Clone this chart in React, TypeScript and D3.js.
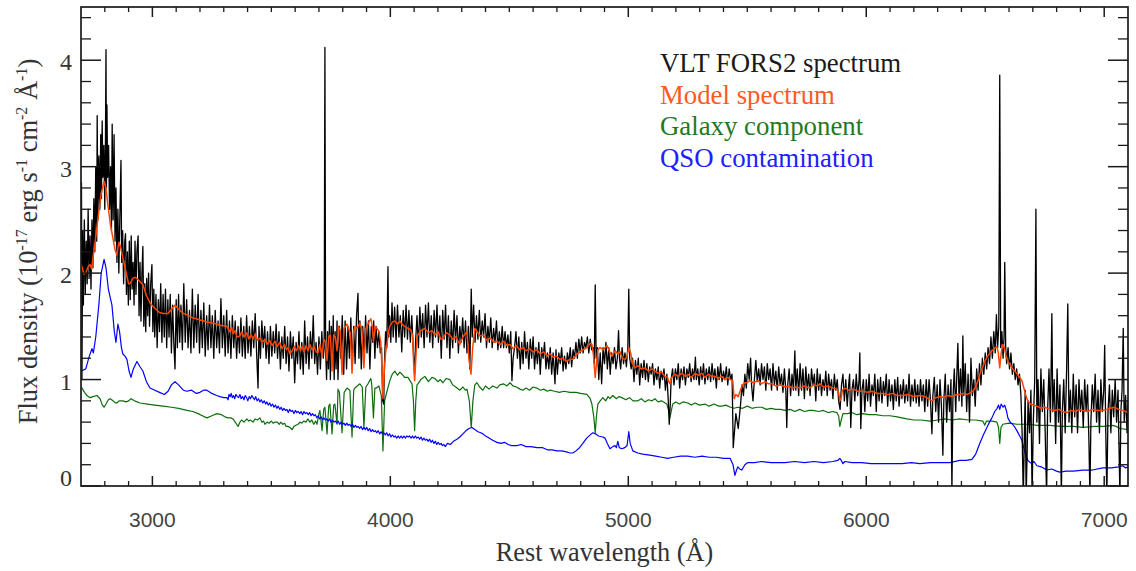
import React from "react";
import * as d3 from "d3";

const W = 1136;
const H = 571;
const M = { left: 81, right: 1128, top: 7, bottom: 486 };

const xDomain: [number, number] = [2700, 7100];
const yDomain: [number, number] = [0, 4.5];
const xTicks = [3000, 4000, 5000, 6000, 7000];
const yTicks = [0, 1, 2, 3, 4];

const legendLabels = ["VLT FORS2 spectrum", "Model spectrum", "Galaxy component", "QSO contamination"];
const legendColors = ["#1a1a1a", "#ff5a24", "#1f7a1f", "#2020ff"];

// Observed spectrum [wavelength (Å), flux]
const observed: [number, number][] = [
  [2700,2.2],[2702,2.85],[2704,1.0],[2707,2.4],[2710,1.7],[2714,2.5],[2718,1.8],[2722,2.3],[2726,1.9],[2730,2.6],
  [2734,1.95],[2738,2.35],[2742,1.85],[2746,2.5],[2750,2.05],[2754,2.7],[2758,2.2],[2762,3.0],[2766,2.3],[2768,3.48],
  [2771,2.5],[2775,3.1],[2779,2.6],[2783,3.3],[2786,2.7],[2789,3.43],[2792,2.9],[2796,3.2],[2800,2.6],[2803,3.3],
  [2805,4.1],[2807,2.8],[2809,3.58],[2812,2.9],[2816,3.2],[2820,2.6],[2824,3.0],[2828,2.4],[2831,3.4],[2835,2.5],
  [2839,3.3],[2843,2.3],[2847,2.8],[2851,2.1],[2855,2.6],[2859,2.0],[2863,2.5],[2868,3.06],[2871,2.1],[2875,2.4],
  [2879,1.9],[2884,2.3],[2887,2.37],[2891,1.8],[2895,2.2],[2899,1.7],[2903,2.3],[2907,1.75],[2911,2.35],[2915,1.85],
  [2919,2.1],[2923,1.7],[2927,2.3],[2931,1.8],[2935,2.2],[2940,2.35],[2944,1.6],[2948,2.1],[2952,1.55],[2956,2.0],
  [2960,2.25],[2964,1.5],[2968,1.9],[2972,1.45],[2976,1.95],[2980,1.6],[2984,2.0],[2988,1.5],[2993,1.9],[2998,2.08],
  [3002,1.45],[3006,1.85],[3010,1.4],[3015,1.8],[3020,1.3],[3025,1.75],[3030,1.45],[3035,1.9],[3040,1.35],[3045,1.8],
  [3050,1.4],[3055,1.85],[3060,1.3],[3065,1.75],[3070,1.4],[3075,1.8],[3080,1.25],[3085,1.7],[3090,1.35],[3095,1.1],
  [3100,1.75],[3105,1.3],[3110,1.8],[3115,1.35],[3120,1.7],[3126,1.28],[3132,1.9],[3138,1.35],[3144,1.75],[3150,1.3],
  [3156,1.65],[3162,1.25],[3168,1.85],[3174,1.3],[3180,1.7],[3186,1.35],[3192,1.8],[3198,1.25],[3204,1.65],[3210,1.3],
  [3216,1.72],[3222,1.22],[3228,1.6],[3234,1.28],[3240,1.7],[3246,1.3],[3252,1.6],[3258,1.2],[3264,1.65],[3270,1.3],
  [3276,1.55],[3282,1.25],[3288,1.76],[3294,1.3],[3300,1.6],[3306,1.22],[3312,1.65],[3318,1.25],[3324,1.55],[3330,1.2],
  [3336,1.6],[3342,1.3],[3348,1.55],[3354,1.2],[3360,1.5],[3366,1.25],[3372,1.58],[3378,1.22],[3384,1.5],[3390,1.2],
  [3396,1.6],[3402,1.25],[3408,1.5],[3414,1.22],[3420,1.55],[3426,1.3],[3432,1.62],[3438,1.25],[3444,0.92],[3448,1.5],
  [3454,1.2],[3460,1.55],[3466,1.3],[3472,1.5],[3478,1.2],[3484,1.45],[3490,1.15],[3496,1.5],[3502,1.22],[3508,1.45],
  [3514,1.25],[3520,1.52],[3526,1.2],[3532,1.45],[3538,1.1],[3544,1.4],[3550,1.2],[3556,1.5],[3562,1.15],[3568,1.4],
  [3574,1.08],[3580,1.45],[3586,1.2],[3592,1.4],[3598,0.97],[3604,1.35],[3610,1.15],[3616,1.45],[3622,1.1],[3628,1.35],
  [3634,1.05],[3640,1.55],[3646,1.15],[3652,1.4],[3658,1.1],[3664,1.45],[3670,1.2],[3676,1.6],[3682,1.15],[3688,1.35],
  [3694,1.05],[3700,1.4],[3706,1.1],[3712,1.45],[3718,1.2],[3722,1.3],[3725,4.12],[3728,1.3],[3732,1.0],[3736,1.45],
  [3740,1.1],[3744,1.55],[3748,1.0],[3752,1.5],[3756,1.15],[3760,1.6],[3764,1.0],[3768,1.45],[3772,1.1],[3776,1.55],
  [3780,1.0],[3786,1.5],[3792,1.2],[3798,1.6],[3804,1.05],[3810,1.55],[3816,1.1],[3822,1.5],[3828,1.2],[3834,1.58],
  [3840,1.1],[3846,1.5],[3852,1.15],[3858,1.6],[3864,1.81],[3868,1.2],[3872,1.55],[3878,1.1],[3884,1.5],[3890,1.2],
  [3896,1.6],[3902,1.25],[3908,1.55],[3914,1.1],[3920,1.5],[3926,1.35],[3930,1.55],[3935,1.2],[3940,1.5],[3946,1.3],
  [3952,1.45],[3958,1.25],[3963,1.3],[3968,0.8],[3972,0.77],[3976,1.2],[3980,1.45],[3985,1.3],[3990,2.06],[3993,1.4],
  [3997,1.6],[4002,1.35],[4007,1.72],[4012,1.4],[4018,1.68],[4024,1.35],[4030,1.7],[4036,1.4],[4042,1.6],[4048,1.26],
  [4054,1.65],[4060,1.4],[4066,1.7],[4072,1.38],[4078,1.65],[4084,1.35],[4090,1.6],[4096,1.3],[4102,1.05],[4106,1.35],
  [4112,1.6],[4118,1.3],[4124,1.68],[4130,1.4],[4136,1.62],[4142,1.3],[4148,1.7],[4154,1.4],[4160,1.72],[4166,1.35],
  [4172,1.6],[4178,1.3],[4184,1.65],[4190,1.4],[4196,1.7],[4202,1.35],[4208,1.6],[4214,1.2],[4220,1.65],[4226,1.38],
  [4232,1.7],[4238,1.3],[4244,1.6],[4250,1.2],[4256,1.55],[4262,1.3],[4268,1.65],[4274,1.35],[4280,1.6],[4286,1.25],
  [4292,1.5],[4298,1.35],[4304,1.58],[4310,1.3],[4316,1.55],[4322,1.25],[4328,1.5],[4334,1.1],[4340,1.85],[4344,1.4],
  [4350,1.7],[4356,1.35],[4362,1.6],[4368,1.38],[4374,1.65],[4380,1.35],[4386,1.55],[4392,1.4],[4398,1.62],[4404,1.3],
  [4410,1.5],[4416,1.35],[4422,1.58],[4428,1.3],[4434,1.48],[4440,1.35],[4446,1.55],[4452,1.28],[4458,1.45],[4464,1.3],
  [4470,1.5],[4476,1.3],[4482,1.45],[4488,1.3],[4494,1.42],[4500,1.25],[4506,1.45],[4511,0.99],[4516,1.2],[4522,1.3],
  [4528,1.45],[4534,1.2],[4540,1.4],[4546,1.1],[4552,1.35],[4558,1.15],[4564,1.45],[4570,1.2],[4576,1.35],[4582,1.1],
  [4588,1.38],[4594,1.2],[4600,1.4],[4606,1.1],[4612,1.3],[4618,1.15],[4624,1.35],[4630,1.05],[4636,1.3],[4642,1.2],
  [4648,1.35],[4654,1.1],[4660,1.25],[4666,1.1],[4672,1.3],[4678,1.05],[4684,1.25],[4692,0.96],[4696,1.28],[4702,1.05],
  [4708,1.25],[4714,1.15],[4720,1.3],[4726,1.08],[4732,1.22],[4738,1.1],[4744,1.25],[4750,1.15],[4756,1.3],[4762,1.12],
  [4768,1.28],[4774,1.2],[4780,1.35],[4786,1.2],[4792,1.38],[4798,1.25],[4804,1.4],[4810,1.25],[4816,1.35],[4822,1.3],
  [4828,1.4],[4834,1.25],[4840,1.38],[4846,1.28],[4852,1.3],[4857,1.15],[4861,1.89],[4865,1.2],[4870,1.3],[4876,1.0],
  [4882,1.25],[4888,0.96],[4894,1.3],[4900,1.15],[4906,1.35],[4912,1.1],[4918,1.3],[4924,1.05],[4930,1.25],[4936,1.15],
  [4942,1.3],[4948,1.1],[4954,1.2],[4959,1.46],[4963,1.2],[4968,1.1],[4974,1.3],[4980,1.15],[4986,1.25],[4992,1.12],
  [4998,1.3],[5002,1.85],[5006,1.2],[5012,1.1],[5018,1.2],[5024,0.98],[5030,1.18],[5036,1.05],[5042,1.2],[5048,0.95],
  [5054,1.15],[5060,1.02],[5066,1.18],[5072,1.0],[5078,1.15],[5084,0.98],[5090,1.12],[5096,1.05],[5102,1.15],[5108,0.95],
  [5114,1.1],[5120,1.0],[5126,1.12],[5132,0.92],[5138,1.08],[5144,1.0],[5150,1.1],[5156,0.9],[5162,1.05],[5168,0.8],
  [5172,0.58],[5176,0.75],[5180,1.0],[5186,1.1],[5192,0.95],[5198,1.1],[5204,1.0],[5210,1.15],[5216,0.92],[5222,1.1],
  [5228,1.0],[5234,1.12],[5240,0.95],[5246,1.1],[5252,1.02],[5258,1.15],[5264,0.98],[5270,1.1],[5276,1.0],[5282,1.21],
  [5286,1.0],[5292,1.1],[5298,0.95],[5304,1.12],[5310,1.0],[5316,1.15],[5322,0.96],[5328,1.1],[5334,1.0],[5340,1.12],
  [5346,0.98],[5352,1.15],[5358,1.0],[5364,1.1],[5370,0.92],[5376,1.12],[5382,1.0],[5388,1.15],[5394,0.98],[5400,1.08],
  [5406,1.0],[5412,1.12],[5418,0.95],[5424,1.1],[5430,1.0],[5436,1.05],[5441,0.36],[5452,0.68],[5462,0.54],[5472,0.77],
  [5478,0.95],[5484,0.85],[5490,1.05],[5496,0.92],[5502,1.15],[5508,1.0],[5514,1.2],[5518,0.95],[5524,0.8],[5530,1.0],
  [5536,1.18],[5542,0.98],[5548,1.1],[5554,0.95],[5560,1.15],[5566,1.0],[5572,1.12],[5578,0.9],[5584,1.15],[5590,1.0],
  [5596,1.1],[5602,0.9],[5608,1.15],[5614,0.95],[5620,1.08],[5626,0.9],[5632,1.12],[5638,0.95],[5644,1.05],[5650,0.88],
  [5656,1.1],[5662,0.9],[5666,0.55],[5670,0.95],[5676,1.1],[5682,0.85],[5688,1.05],[5694,0.9],[5700,1.27],[5704,0.9],
  [5710,1.1],[5716,0.85],[5722,1.15],[5728,0.9],[5734,1.1],[5740,0.82],[5746,1.12],[5752,0.9],[5758,1.05],[5764,0.85],
  [5770,1.1],[5776,0.95],[5782,1.05],[5788,0.8],[5794,1.1],[5800,0.9],[5806,1.05],[5812,0.85],[5818,1.0],[5824,0.9],
  [5830,1.08],[5836,0.85],[5842,1.05],[5848,0.9],[5854,1.0],[5860,0.82],[5866,1.05],[5872,0.9],[5878,1.0],[5884,0.8],
  [5890,0.72],[5896,0.95],[5902,1.05],[5908,0.8],[5914,1.0],[5920,0.75],[5926,0.95],[5930,1.05],[5935,0.55],[5940,0.9],
  [5946,1.0],[5952,0.8],[5958,1.05],[5964,0.85],[5970,1.0],[5973,1.25],[5977,0.54],[5982,0.9],[5988,1.0],[5994,0.7],
  [6000,1.0],[6006,0.8],[6012,1.05],[6018,0.75],[6024,0.95],[6030,0.85],[6036,1.05],[6042,0.7],[6048,1.0],[6054,0.8],
  [6060,1.02],[6066,0.78],[6072,0.98],[6078,0.85],[6084,1.05],[6090,0.75],[6096,1.0],[6102,0.8],[6108,0.95],[6114,0.72],
  [6120,1.0],[6126,0.8],[6132,1.02],[6138,0.75],[6144,0.95],[6150,0.82],[6156,1.0],[6162,0.78],[6168,0.95],[6174,0.8],
  [6180,1.05],[6186,0.75],[6192,0.95],[6198,0.8],[6204,1.0],[6210,0.78],[6216,0.95],[6222,0.75],[6228,1.0],[6234,0.8],
  [6240,0.95],[6246,0.7],[6252,1.0],[6258,0.75],[6264,1.0],[6270,0.8],[6276,0.49],[6280,0.85],[6286,1.02],[6292,0.7],
  [6298,0.95],[6304,0.6],[6310,1.0],[6316,0.75],[6322,0.29],[6326,0.8],[6332,1.05],[6338,0.6],[6344,0.95],[6350,0.7],
  [6356,1.0],[6360,-0.05],[6364,0.8],[6370,1.1],[6376,0.7],[6380,1.0],[6385,1.34],[6390,0.8],[6396,1.1],[6402,0.75],
  [6406,1.41],[6410,0.85],[6416,1.15],[6422,0.7],[6428,1.05],[6434,0.6],[6440,1.2],[6446,0.85],[6452,1.0],[6458,0.75],
  [6464,1.1],[6470,0.9],[6476,1.15],[6482,0.95],[6488,1.2],[6494,1.05],[6500,1.25],[6506,1.1],[6512,1.3],[6518,1.15],
  [6524,1.4],[6530,1.2],[6536,1.45],[6542,1.25],[6547,1.61],[6552,1.3],[6557,1.5],[6561,3.86],[6565,1.3],[6570,1.45],
  [6575,1.2],[6579,1.4],[6582,2.1],[6586,1.3],[6590,1.15],[6596,1.3],[6602,1.1],[6608,1.25],[6614,1.05],[6620,1.15],
  [6626,1.0],[6632,1.1],[6638,0.95],[6644,1.05],[6650,0.85],[6655,0.5],[6660,-0.1],[6664,0.4],[6668,0.9],[6672,-0.1],
  [6676,0.3],[6680,0.8],[6686,0.5],[6692,0.9],[6697,-0.1],[6702,0.6],[6708,1.0],[6713,2.6],[6717,0.6],[6722,1.0],
  [6728,0.4],[6734,1.1],[6740,0.7],[6746,1.0],[6752,0.5],[6758,-0.1],[6762,0.7],[6768,1.1],[6774,0.6],[6780,1.62],
  [6784,0.7],[6790,1.0],[6796,0.4],[6802,1.1],[6808,0.6],[6814,0.95],[6820,-0.1],[6824,0.7],[6830,1.0],[6836,0.5],
  [6842,1.1],[6847,1.71],[6852,0.6],[6858,0.9],[6864,0.5],[6870,1.05],[6876,0.65],[6882,0.95],[6888,0.5],[6894,1.0],
  [6900,0.7],[6906,0.9],[6912,0.55],[6918,1.0],[6924,0.7],[6930,0.95],[6936,0.4],[6940,-0.1],[6944,0.6],[6950,0.95],
  [6956,0.7],[6962,1.05],[6968,0.6],[6974,0.9],[6980,0.5],[6986,1.0],[6992,0.7],[6998,0.9],[7002,1.32],[7006,0.6],
  [7011,-0.1],[7016,0.7],[7022,0.95],[7028,0.5],[7034,0.9],[7040,0.65],[7046,1.0],[7052,0.6],[7058,0.9],[7066,-0.1],
  [7070,0.7],[7075,0.9],[7080,1.48],[7084,0.6],[7090,0.85],[7096,0.5],[7100,0.8]
];

// Model spectrum
const model: [number, number][] = [
  [2700,2.08],[2704,2.06],[2712,1.99],[2720,2.0],[2730,2.06],[2738,2.08],[2745,2.04],[2750,2.14],[2760,2.3],[2771,2.51],
  [2785,2.75],[2797,2.86],[2805,2.8],[2813,2.64],[2824,2.45],[2834,2.33],[2843,2.22],[2851,2.17],[2856,2.25],[2860,2.29],
  [2867,2.24],[2876,2.14],[2890,2.0],[2900,1.9],[2906,1.9],[2918,1.95],[2926,1.96],[2935,1.95],[2948,1.92],[2960,1.89],
  [2975,1.79],[2990,1.72],[3010,1.67],[3030,1.63],[3045,1.62],[3066,1.62],[3080,1.66],[3095,1.70],[3110,1.66],[3130,1.62],
  [3145,1.61],[3170,1.58],[3200,1.56],[3230,1.54],[3255,1.53],[3285,1.51],[3313,1.50],[3325,1.45],[3333,1.49],[3339,1.43],
  [3348,1.46],[3355,1.40],[3368,1.41],[3376,1.45],[3385,1.40],[3397,1.44],[3405,1.38],[3414,1.42],[3423,1.38],[3432,1.43],
  [3442,1.37],[3452,1.39],[3462,1.35],[3473,1.38],[3482,1.33],[3492,1.37],[3503,1.32],[3515,1.36],[3525,1.31],[3535,1.35],
  [3545,1.29],[3555,1.33],[3563,1.28],[3570,1.30],[3578,1.24],[3587,1.27],[3596,1.31],[3605,1.27],[3614,1.32],[3622,1.27],
  [3629,1.31],[3638,1.26],[3646,1.32],[3654,1.27],[3662,1.33],[3671,1.28],[3680,1.31],[3688,1.26],[3696,1.25],[3704,1.33],
  [3713,1.22],[3720,1.38],[3727,1.36],[3734,1.18],[3741,1.40],[3748,1.42],[3755,1.08],[3762,1.42],[3769,1.40],[3776,1.27],
  [3782,1.50],[3789,1.46],[3797,1.05],[3805,1.48],[3812,1.50],[3818,1.52],[3826,1.47],[3832,1.44],[3839,1.06],[3846,1.45],
  [3851,1.50],[3860,1.48],[3872,1.53],[3880,1.48],[3889,1.11],[3897,1.48],[3906,1.52],[3912,1.55],[3918,1.57],[3924,1.5],
  [3929,1.36],[3936,1.5],[3944,1.48],[3952,1.45],[3960,1.35],[3965,1.1],[3969,0.82],[3975,1.1],[3980,1.25],[3986,1.33],
  [3992,1.45],[3998,1.50],[4008,1.54],[4019,1.55],[4030,1.52],[4040,1.55],[4049,1.52],[4060,1.5],[4074,1.48],[4085,1.47],
  [4093,1.42],[4099,1.1],[4102,0.99],[4106,1.15],[4112,1.4],[4116,1.42],[4128,1.46],[4145,1.48],[4160,1.44],[4175,1.46],
  [4187,1.42],[4200,1.45],[4212,1.38],[4221,1.39],[4235,1.44],[4250,1.42],[4262,1.38],[4275,1.4],[4292,1.33],[4305,1.4],
  [4315,1.43],[4322,1.45],[4330,1.2],[4339,1.05],[4346,1.3],[4355,1.48],[4365,1.45],[4376,1.41],[4390,1.42],[4405,1.37],
  [4420,1.39],[4435,1.35],[4448,1.36],[4462,1.33],[4475,1.36],[4490,1.32],[4503,1.33],[4516,1.29],[4530,1.32],[4543,1.28],
  [4557,1.30],[4570,1.27],[4585,1.29],[4600,1.26],[4616,1.28],[4630,1.24],[4645,1.26],[4660,1.22],[4671,1.24],[4685,1.21],
  [4700,1.22],[4712,1.19],[4725,1.20],[4740,1.17],[4755,1.19],[4767,1.19],[4780,1.23],[4795,1.26],[4810,1.28],[4826,1.30],
  [4840,1.34],[4847,1.33],[4853,1.25],[4858,1.1],[4861,1.02],[4866,1.15],[4872,1.28],[4881,1.30],[4895,1.28],[4910,1.32],
  [4920,1.27],[4931,1.22],[4945,1.27],[4956,1.24],[4965,1.26],[4975,1.2],[4986,1.19],[4995,1.22],[5002,1.30],[5010,1.25],
  [5018,1.15],[5028,1.11],[5040,1.13],[5055,1.1],[5070,1.11],[5085,1.08],[5100,1.1],[5112,1.08],[5125,1.06],[5140,1.07],
  [5154,1.03],[5165,1.02],[5170,0.98],[5175,0.96],[5182,1.02],[5196,1.05],[5210,1.03],[5225,1.06],[5240,1.03],[5250,1.05],
  [5265,1.02],[5280,1.06],[5295,1.04],[5309,1.06],[5322,1.02],[5336,1.05],[5350,1.03],[5364,1.03],[5378,1.01],[5392,1.03],
  [5405,1.0],[5418,1.02],[5430,1.0],[5439,0.99],[5445,0.82],[5452,0.86],[5462,0.84],[5470,0.89],[5480,0.95],[5490,0.97],
  [5498,0.97],[5510,0.99],[5525,0.97],[5545,0.99],[5560,0.96],[5575,0.98],[5590,0.96],[5603,0.96],[5620,0.94],[5640,0.95],
  [5658,0.93],[5675,0.94],[5690,0.92],[5705,0.93],[5721,0.92],[5740,0.94],[5760,0.92],[5780,0.95],[5795,0.94],[5805,0.96],
  [5820,0.93],[5840,0.94],[5860,0.92],[5876,0.91],[5884,0.88],[5889,0.80],[5894,0.82],[5900,0.9],[5910,0.92],[5925,0.9],
  [5945,0.91],[5965,0.89],[5986,0.89],[6005,0.88],[6025,0.89],[6045,0.87],[6070,0.87],[6090,0.86],[6110,0.87],[6130,0.85],
  [6154,0.85],[6175,0.86],[6200,0.84],[6225,0.85],[6245,0.84],[6260,0.82],[6276,0.80],[6292,0.83],[6310,0.84],[6325,0.83],
  [6338,0.85],[6360,0.84],[6380,0.86],[6393,0.86],[6410,0.87],[6425,0.86],[6440,0.88],[6448,0.89],[6460,0.93],[6470,0.99],
  [6477,1.05],[6490,1.12],[6498,1.17],[6510,1.22],[6520,1.25],[6528,1.27],[6538,1.29],[6549,1.31],[6555,1.25],[6561,1.11],
  [6567,1.25],[6574,1.33],[6580,1.3],[6588,1.22],[6595,1.17],[6605,1.14],[6615,1.1],[6624,1.08],[6635,1.05],[6645,1.02],
  [6654,0.99],[6665,0.9],[6672,0.84],[6679,0.80],[6690,0.77],[6705,0.76],[6717,0.75],[6735,0.73],[6750,0.74],[6771,0.72],
  [6790,0.71],[6810,0.72],[6825,0.70],[6843,0.69],[6860,0.71],[6880,0.70],[6895,0.72],[6910,0.71],[6930,0.70],[6950,0.72],
  [6970,0.71],[6994,0.71],[7010,0.72],[7025,0.73],[7044,0.74],[7060,0.72],[7080,0.71],[7100,0.69]
];

// Galaxy component
const galaxy: [number, number][] = [
  [2700,0.93],[2704,0.92],[2715,0.88],[2725,0.85],[2738,0.83],[2750,0.84],[2767,0.85],[2780,0.82],[2790,0.76],[2797,0.74],
  [2805,0.77],[2815,0.81],[2822,0.82],[2835,0.80],[2845,0.78],[2851,0.78],[2860,0.8],[2876,0.80],[2890,0.79],[2900,0.8],
  [2910,0.82],[2925,0.8],[2948,0.78],[2980,0.77],[3010,0.76],[3045,0.75],[3080,0.74],[3110,0.73],[3145,0.71],[3170,0.7],
  [3192,0.68],[3210,0.66],[3229,0.64],[3250,0.66],[3271,0.68],[3290,0.67],[3305,0.65],[3318,0.64],[3330,0.64],[3339,0.63],
  [3348,0.6],[3354,0.58],[3360,0.56],[3368,0.6],[3375,0.62],[3385,0.6],[3397,0.63],[3405,0.61],[3412,0.62],[3423,0.60],
  [3432,0.63],[3442,0.62],[3452,0.64],[3460,0.6],[3467,0.61],[3473,0.58],[3482,0.6],[3490,0.59],[3500,0.61],[3507,0.59],
  [3515,0.60],[3525,0.6],[3533,0.58],[3540,0.6],[3548,0.58],[3556,0.59],[3562,0.56],[3570,0.56],[3578,0.55],[3587,0.53],
  [3595,0.56],[3603,0.57],[3612,0.58],[3620,0.6],[3628,0.59],[3636,0.61],[3645,0.6],[3654,0.63],[3662,0.6],[3670,0.62],
  [3678,0.58],[3686,0.61],[3692,0.58],[3700,0.68],[3704,0.71],[3713,0.52],[3720,0.72],[3725,0.74],[3734,0.49],[3741,0.75],
  [3746,0.77],[3755,0.49],[3762,0.76],[3767,0.77],[3776,0.58],[3780,0.91],[3786,0.88],[3797,0.50],[3806,0.88],[3818,0.92],
  [3830,0.9],[3839,0.46],[3846,0.9],[3851,0.92],[3872,0.96],[3882,0.93],[3889,0.55],[3897,0.93],[3906,0.96],[3918,1.01],
  [3922,0.95],[3929,0.64],[3935,0.92],[3941,0.92],[3952,0.94],[3962,0.85],[3969,0.33],[3976,0.8],[3986,0.89],[3998,0.99],
  [4008,1.05],[4019,1.08],[4030,1.04],[4040,1.07],[4049,1.05],[4060,1.02],[4074,1.02],[4085,0.98],[4091,0.96],[4097,0.8],
  [4102,0.52],[4107,0.8],[4112,0.95],[4116,0.96],[4128,1.0],[4145,1.03],[4160,0.98],[4175,1.02],[4187,1.01],[4200,0.98],
  [4210,1.0],[4221,0.97],[4235,1.01],[4250,1.00],[4262,0.95],[4275,0.93],[4292,0.90],[4305,0.93],[4315,0.9],[4322,0.91],
  [4332,0.8],[4340,0.55],[4347,0.8],[4355,0.95],[4364,0.97],[4375,0.93],[4389,0.90],[4400,0.94],[4415,0.91],[4430,0.94],
  [4448,0.92],[4460,0.95],[4475,0.96],[4490,0.94],[4503,0.97],[4515,0.94],[4530,0.93],[4545,0.91],[4557,0.90],[4570,0.92],
  [4585,0.9],[4600,0.93],[4616,0.92],[4630,0.9],[4645,0.91],[4660,0.89],[4671,0.90],[4690,0.89],[4710,0.88],[4730,0.89],
  [4755,0.88],[4780,0.88],[4800,0.87],[4826,0.86],[4840,0.82],[4847,0.77],[4855,0.65],[4861,0.50],[4866,0.65],[4872,0.77],
  [4882,0.8],[4893,0.83],[4905,0.8],[4915,0.84],[4923,0.82],[4935,0.85],[4950,0.82],[4960,0.84],[4973,0.83],[4990,0.81],
  [5005,0.83],[5020,0.8],[5040,0.80],[5055,0.82],[5070,0.79],[5085,0.81],[5100,0.8],[5112,0.82],[5125,0.79],[5140,0.8],
  [5155,0.78],[5162,0.77],[5168,0.72],[5175,0.64],[5182,0.72],[5187,0.77],[5200,0.79],[5215,0.77],[5230,0.79],[5250,0.78],
  [5265,0.76],[5280,0.78],[5300,0.76],[5322,0.77],[5340,0.75],[5360,0.77],[5380,0.75],[5393,0.75],[5410,0.76],[5430,0.74],
  [5445,0.73],[5460,0.74],[5480,0.73],[5500,0.75],[5520,0.73],[5540,0.74],[5561,0.74],[5580,0.72],[5600,0.73],[5620,0.72],
  [5640,0.72],[5658,0.71],[5680,0.72],[5700,0.7],[5720,0.72],[5740,0.7],[5760,0.71],[5776,0.71],[5800,0.7],[5820,0.71],
  [5840,0.69],[5860,0.7],[5876,0.69],[5884,0.66],[5889,0.56],[5895,0.62],[5902,0.68],[5920,0.68],[5940,0.69],[5960,0.67],
  [5986,0.68],[6010,0.67],[6040,0.67],[6070,0.66],[6099,0.66],[6130,0.65],[6150,0.64],[6171,0.63],[6200,0.62],[6230,0.62],
  [6267,0.61],[6300,0.62],[6330,0.63],[6360,0.62],[6393,0.63],[6430,0.62],[6460,0.62],[6490,0.61],[6498,0.57],[6505,0.61],
  [6530,0.61],[6549,0.60],[6556,0.55],[6561,0.40],[6566,0.55],[6574,0.58],[6600,0.59],[6633,0.58],[6680,0.58],[6720,0.57],
  [6771,0.57],[6820,0.56],[6870,0.56],[6910,0.55],[6960,0.56],[7000,0.56],[7036,0.57],[7050,0.56],[7066,0.54],[7100,0.53]
];

// QSO contamination
const qso: [number, number][] = [
  [2700,1.08],[2720,1.1],[2735,1.22],[2746,1.29],[2752,1.25],[2762,1.4],[2775,1.7],[2785,2.0],[2797,2.13],[2805,2.05],
  [2815,1.85],[2830,1.70],[2840,1.45],[2847,1.35],[2855,1.52],[2862,1.45],[2870,1.3],[2876,1.24],[2885,1.22],[2893,1.19],
  [2902,1.08],[2910,1.02],[2920,1.1],[2935,1.17],[2948,1.12],[2960,1.08],[2975,0.98],[2990,0.92],[3010,0.9],[3030,0.88],
  [3050,0.86],[3066,0.89],[3080,0.95],[3095,0.98],[3110,0.95],[3130,0.9],[3145,0.89],[3165,0.9],[3185,0.87],[3200,0.88],
  [3215,0.9],[3229,0.9],[3250,0.87],[3270,0.85],[3284,0.84],[3300,0.83],[3313,0.83],[3318,0.81],[3322,0.86],[3327,0.84],
  [3331,0.87],[3336,0.83],[3341,0.85],[3346,0.82],[3351,0.86],[3357,0.84],[3362,0.83],[3368,0.86],[3373,0.82],[3379,0.84],
  [3385,0.81],[3390,0.85],[3396,0.83],[3401,0.80],[3407,0.84],[3412,0.82],[3418,0.85],[3423,0.83],[3429,0.81],[3434,0.84],
  [3440,0.80],[3446,0.82],[3452,0.79],[3458,0.81],[3464,0.78],[3470,0.80],[3476,0.77],[3481,0.79],[3487,0.76],[3493,0.78],
  [3499,0.75],[3505,0.77],[3511,0.74],[3517,0.76],[3523,0.73],[3529,0.75],[3535,0.72],[3541,0.74],[3547,0.71],[3553,0.73],
  [3559,0.71],[3565,0.72],[3571,0.69],[3577,0.72],[3583,0.70],[3589,0.71],[3595,0.68],[3601,0.71],[3607,0.69],[3613,0.70],
  [3619,0.68],[3625,0.70],[3631,0.67],[3637,0.70],[3643,0.68],[3649,0.69],[3655,0.67],[3661,0.69],[3667,0.66],[3673,0.68],
  [3679,0.66],[3685,0.67],[3691,0.64],[3697,0.66],[3703,0.63],[3709,0.65],[3715,0.62],[3721,0.64],[3727,0.62],[3733,0.63],
  [3739,0.61],[3745,0.63],[3751,0.60],[3757,0.62],[3763,0.60],[3769,0.61],[3775,0.59],[3781,0.61],[3787,0.58],[3793,0.60],
  [3799,0.58],[3805,0.59],[3811,0.57],[3817,0.59],[3823,0.57],[3829,0.58],[3835,0.56],[3841,0.58],[3847,0.55],[3853,0.57],
  [3859,0.55],[3865,0.56],[3871,0.54],[3877,0.56],[3883,0.53],[3889,0.55],[3895,0.53],[3901,0.55],[3907,0.52],[3913,0.54],
  [3919,0.51],[3925,0.53],[3931,0.51],[3937,0.52],[3943,0.50],[3949,0.52],[3955,0.49],[3961,0.51],[3967,0.49],[3973,0.50],
  [3979,0.48],[3985,0.50],[3991,0.47],[3997,0.49],[4003,0.46],[4009,0.48],[4015,0.46],[4021,0.47],[4027,0.45],[4033,0.47],
  [4039,0.45],[4045,0.47],[4051,0.45],[4057,0.47],[4063,0.45],[4069,0.47],[4075,0.46],[4081,0.47],[4087,0.45],[4093,0.47],
  [4099,0.45],[4105,0.47],[4111,0.45],[4117,0.46],[4123,0.44],[4129,0.46],[4135,0.43],[4141,0.45],[4147,0.43],[4153,0.44],
  [4159,0.42],[4165,0.44],[4171,0.41],[4177,0.43],[4183,0.40],[4189,0.42],[4195,0.39],[4201,0.41],[4207,0.39],[4213,0.40],
  [4219,0.38],[4225,0.39],[4231,0.37],[4240,0.40],[4252,0.39],[4265,0.42],[4280,0.44],[4292,0.46],[4305,0.49],
  [4318,0.52],[4330,0.54],[4343,0.55],[4355,0.53],[4368,0.51],[4380,0.5],[4389,0.49],[4400,0.47],[4415,0.45],[4430,0.43],
  [4448,0.41],[4465,0.4],[4480,0.41],[4495,0.39],[4510,0.38],[4532,0.38],[4550,0.39],[4570,0.37],[4590,0.37],[4616,0.36],
  [4640,0.36],[4660,0.34],[4680,0.34],[4700,0.33],[4720,0.33],[4740,0.32],[4755,0.31],[4767,0.31],[4780,0.33],[4795,0.36],
  [4809,0.40],[4825,0.45],[4840,0.48],[4851,0.50],[4862,0.49],[4875,0.47],[4893,0.46],[4902,0.45],[4912,0.4],[4923,0.35],
  [4935,0.37],[4944,0.38],[4950,0.36],[4956,0.42],[4962,0.36],[4973,0.35],[4985,0.36],[4995,0.38],[5002,0.51],[5008,0.4],
  [5019,0.33],[5040,0.31],[5060,0.3],[5090,0.29],[5115,0.28],[5141,0.27],[5165,0.26],[5190,0.27],[5220,0.28],[5250,0.28],
  [5280,0.27],[5310,0.28],[5340,0.27],[5370,0.27],[5400,0.26],[5428,0.26],[5440,0.2],[5448,0.10],[5455,0.15],[5460,0.18],
  [5468,0.16],[5477,0.15],[5490,0.2],[5502,0.22],[5530,0.22],[5560,0.23],[5600,0.22],[5658,0.22],[5700,0.23],[5740,0.22],
  [5780,0.23],[5820,0.22],[5860,0.23],[5880,0.24],[5889,0.26],[5895,0.24],[5902,0.21],[5910,0.23],[5940,0.22],[5980,0.22],
  [6020,0.21],[6057,0.21],[6100,0.21],[6150,0.21],[6190,0.22],[6225,0.21],[6270,0.22],[6310,0.22],[6351,0.22],[6393,0.24],
  [6420,0.24],[6444,0.25],[6460,0.3],[6477,0.40],[6492,0.48],[6507,0.55],[6518,0.6],[6528,0.64],[6540,0.7],[6550,0.73],
  [6556,0.76],[6561,0.72],[6567,0.77],[6575,0.74],[6582,0.76],[6590,0.7],[6595,0.64],[6605,0.6],[6615,0.58],[6625,0.55],
  [6633,0.52],[6645,0.47],[6654,0.43],[6665,0.33],[6679,0.24],[6695,0.21],[6705,0.23],[6717,0.19],[6735,0.18],[6759,0.15],
  [6780,0.16],[6800,0.14],[6813,0.13],[6840,0.14],[6870,0.14],[6910,0.15],[6950,0.15],[6994,0.17],[7030,0.17],[7060,0.18],
  [7078,0.19],[7090,0.17],[7100,0.18]
];

const serif = "'Liberation Serif', 'Times New Roman', serif";
const sans = "'Liberation Sans', Arial, Helvetica, sans-serif";

export default function App() {
  const x = d3.scaleLinear().domain(xDomain).range([M.left, M.right]);
  const y = d3.scaleLinear().domain(yDomain).range([M.bottom, M.top]);
  const line = d3
    .line<[number, number]>()
    .x((d) => x(d[0]))
    .y((d) => y(d[1]));

  const xMinor = d3.range(2800, 7100, 100).filter((v) => v % 1000 !== 0);
  const yMinor = d3.range(1, 23).map((i) => i * 0.2).filter((_, i) => (i + 1) % 5 !== 0);

  const series = [
    { data: galaxy, color: "#0c6e0c", w: 1.2 },
    { data: qso, color: "#0000ff", w: 1.2 },
    { data: observed, color: "#000000", w: 1.3 },
    { data: model, color: "#ff4500", w: 1.5 },
  ];

  const frame = "#1a1a1a";

  return (
    <div style={{ position: "absolute", left: 0, top: 0 }}>
      <svg width={W} height={H} style={{ display: "block", background: "#fff" }}>
        <defs>
          <clipPath id="plotclip">
            <rect x={M.left} y={M.top} width={M.right - M.left} height={M.bottom - M.top} />
          </clipPath>
        </defs>
        <g clipPath="url(#plotclip)">
          {series.map((s, i) => (
            <path key={i} d={line(s.data) || ""} fill="none" stroke={s.color} strokeWidth={s.w} strokeLinejoin="round" />
          ))}
        </g>
        <rect x={M.left} y={M.top} width={M.right - M.left} height={M.bottom - M.top} fill="none" stroke={frame} strokeWidth={1.7} />
        {xTicks.map((t) => (
          <g key={"xt" + t}>
            <line x1={x(t)} x2={x(t)} y1={M.bottom} y2={M.bottom - 10} stroke={frame} strokeWidth={1.5} />
            <line x1={x(t)} x2={x(t)} y1={M.top} y2={M.top + 10} stroke={frame} strokeWidth={1.5} />
            <text x={x(t)} y={527} textAnchor="middle" fontFamily={sans} fontSize={21} fill="#444">
              {t}
            </text>
          </g>
        ))}
        {xMinor.map((t) => (
          <g key={"xm" + t}>
            <line x1={x(t)} x2={x(t)} y1={M.bottom} y2={M.bottom - 5} stroke={frame} strokeWidth={1.3} />
            <line x1={x(t)} x2={x(t)} y1={M.top} y2={M.top + 5} stroke={frame} strokeWidth={1.3} />
          </g>
        ))}
        {yTicks.map((t) => (
          <g key={"yt" + t}>
            <line x1={M.left} x2={M.left + 20} y1={y(t)} y2={y(t)} stroke={frame} strokeWidth={1.5} />
            <line x1={M.right} x2={M.right - 20} y1={y(t)} y2={y(t)} stroke={frame} strokeWidth={1.5} />
            <text
              x={72}
              y={Math.min(y(t) + 2, M.bottom - 8)}
              textAnchor="end"
              dominantBaseline="central"
              fontFamily={serif}
              fontSize={24}
              fill="#333"
            >
              {t}
            </text>
          </g>
        ))}
        {yMinor.map((t) => (
          <g key={"ym" + t}>
            <line x1={M.left} x2={M.left + 10} y1={y(t)} y2={y(t)} stroke={frame} strokeWidth={1.3} />
            <line x1={M.right} x2={M.right - 10} y1={y(t)} y2={y(t)} stroke={frame} strokeWidth={1.3} />
          </g>
        ))}
        <text x={(M.left + M.right) / 2} y={561} textAnchor="middle" fontFamily={serif} fontSize={26.3} fill="#333">
          Rest wavelength (Å)
        </text>
        <text
          transform={`translate(37, ${(M.top + M.bottom) / 2 - 5}) rotate(-90)`}
          textAnchor="middle"
          fontFamily={serif}
          fontSize={26.5}
          fill="#333"
        >
          <tspan>Flux density (10</tspan>
          <tspan dy={-10} fontSize={16}>-17</tspan>
          <tspan dy={10}> erg s</tspan>
          <tspan dy={-10} fontSize={16}>-1</tspan>
          <tspan dy={10}> cm</tspan>
          <tspan dy={-10} fontSize={16}>-2</tspan>
          <tspan dy={10}> Å</tspan>
          <tspan dy={-10} fontSize={16}>-1</tspan>
          <tspan dy={10}>)</tspan>
        </text>
        {legendLabels.map((lab, i) => (
          <text key={lab} x={660} y={72 + i * 31.5} fontFamily={serif} fontSize={26.8} fill={legendColors[i]}>
            {lab}
          </text>
        ))}
      </svg>
    </div>
  );
}
